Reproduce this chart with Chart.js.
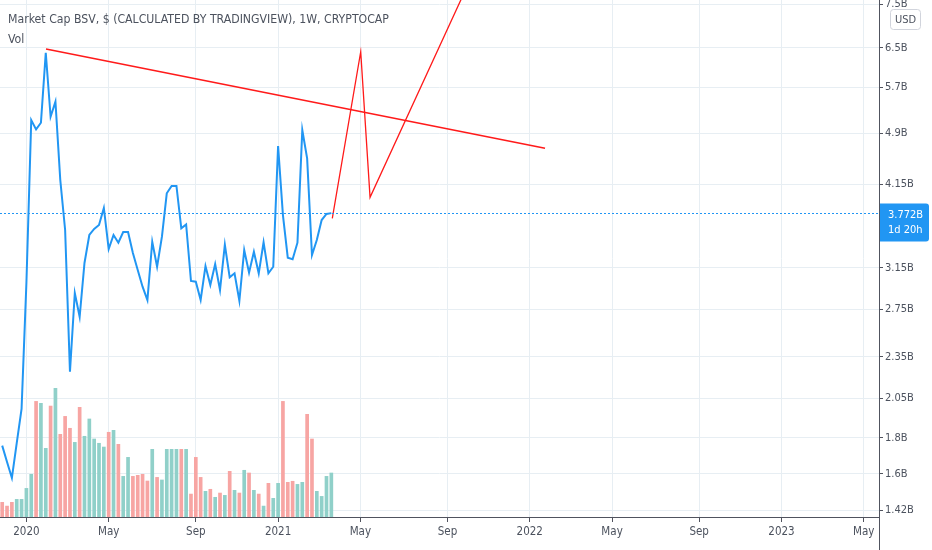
<!DOCTYPE html>
<html>
<head>
<meta charset="utf-8">
<script src="https://cdn.jsdelivr.net/npm/chart.js@4.4.1/dist/chart.umd.min.js"></script>
<style>
    body { margin: 0; background: #ffffff; }
    #wrap { position: relative; width: 932px; height: 550px; }
    #title, #vol {
        position: absolute; left: 8px;
        font: 12.2px "DejaVu Sans Condensed", sans-serif; color: #4c525e;
        white-space: nowrap;
    }
    #title { top: 12px; }
    #vol { top: 32px; }
</style>
</head>
<body>
<div id="wrap">
    <canvas id="chartBsv"></canvas>
    <div id="title">Market Cap BSV, $ (CALCULATED BY TRADINGVIEW), 1W, CRYPTOCAP</div>
    <div id="vol">Vol</div>
</div>
<script>
// weekly closes, in billions USD (week of 2019-12-02 .. 2021-03-22)
const closeB = [
    1.755, 1.663, 1.578, 1.770, 1.980, 2.997, 5.124, 4.969, 5.078, 6.394,
    5.180, 5.442, 4.206, 3.568, 2.238, 2.900, 2.682, 3.201, 3.510, 3.580,
    3.627, 3.836, 3.352, 3.510, 3.422, 3.545, 3.545, 3.308, 3.128, 2.961,
    2.834, 3.433, 3.162, 3.490, 4.026, 4.124, 4.124, 3.588, 3.635, 3.017,
    3.010, 2.834, 3.169, 2.977, 3.190, 2.929, 3.399, 3.054, 3.094, 2.827,
    3.341, 3.100, 3.322, 3.094, 3.426, 3.094, 3.162, 4.704, 3.748, 3.257,
    3.240, 3.422, 4.958, 4.517, 3.286, 3.453, 3.687, 3.761, 3.772,
];

// weekly volume, millions USD
const volumeM = [
    116, 87, 116, 139, 139, 224, 333, 897, 882, 534,
    861, 998, 642, 781, 689, 580, 851, 627, 761, 606,
    573, 544, 658, 673, 565, 317, 464, 317, 325, 333,
    281, 526, 309, 289, 526, 526, 526, 526, 526, 180,
    464, 309, 201, 217, 155, 188, 170, 356, 209, 188,
    364, 343, 209, 180, 87, 263, 147, 263, 897, 271,
    279, 255, 271, 797, 606, 201, 162, 317, 343,
];

// u = up week, d = down week
const volumeDir = (
    "ddduuuuduu" + "duddduduuu" + "uududuuddd" + "duduuuudud" +
    "ddudududud" + "udududuudd" + "duudduuuu"
).split("");

// time axis: bar index of first weekly bar of each labelled month
const monthIdx = [5, 22, 40, 57, 74, 92, 109, 126, 144, 161, 178];
const monthLabels = ["2020", "May", "Sep", "2021", "May", "Sep", "2022", "May", "Sep", "2023", "May"];

// price axis ticks, billions USD
const priceTicks = [1.42, 1.6, 1.8, 2.05, 2.35, 2.75, 3.15, 4.15, 4.9, 5.7, 6.5, 7.5];

// drawings: [bar index, price in billions]
const trendLine = [[9.05, 6.472], [112.15, 4.668]];
const projection = [[68.2, 3.708], [74.07, 6.415], [76.0, 3.973], [100, 9.12]];

const timeLeft = "1d 20h";

const BLUE = "#2196f3";
const GRID = "#e7eef3";
const AXIS = "#50535e";
const TEXT = "#4c525e";
const FONT = "'DejaVu Sans Condensed', sans-serif";

const toPts = (arr) => arr.map((p) => ({ x: p[0], y: p[1] * 1e9 }));

const noPadding = (axis) => {
    axis.paddingTop = 0;
    axis.paddingBottom = 0;
    axis.paddingLeft = 0;
    axis.paddingRight = 0;
};

const overlayPlugin = {
    id: "overlay",
    afterDraw(chart) {
        const ctx = chart.ctx;
        const area = chart.chartArea;
        const y = chart.scales.y;
        const last = closeB[closeB.length - 1];
        const py = Math.round(y.getPixelForValue(last * 1e9)) + 0.5;

        ctx.save();
        // last price dotted line
        ctx.strokeStyle = BLUE;
        ctx.lineWidth = 1;
        ctx.setLineDash([2, 2]);
        ctx.beginPath();
        ctx.moveTo(area.left, py);
        ctx.lineTo(area.right, py);
        ctx.stroke();
        ctx.setLineDash([]);

        // axis line continues through the time axis
        ctx.strokeStyle = AXIS;
        ctx.beginPath();
        ctx.moveTo(area.right + 0.5, area.bottom);
        ctx.lineTo(area.right + 0.5, chart.height);
        ctx.stroke();

        // price label
        ctx.fillStyle = BLUE;
        ctx.beginPath();
        ctx.roundRect(area.right + 1, py - 10, 49, 38, [0, 3, 3, 0]);
        ctx.fill();
        ctx.fillStyle = "#ffffff";
        ctx.font = "11px " + FONT;
        ctx.textBaseline = "middle";
        ctx.fillText(last.toFixed(3) + "B", area.right + 9, py + 2);
        ctx.fillText(timeLeft, area.right + 9, py + 17);

        // currency box
        ctx.fillStyle = "#ffffff";
        ctx.strokeStyle = "#d1d4dc";
        ctx.beginPath();
        ctx.roundRect(area.right + 11.5, 9.5, 30, 20, 3);
        ctx.fill();
        ctx.stroke();
        ctx.fillStyle = TEXT;
        ctx.textAlign = "center";
        ctx.fillText("USD", area.right + 26.5, 20);
        ctx.restore();
    },
};

new Chart(document.getElementById("chartBsv").getContext("2d"), {
    data: {
        datasets: [
            {
                type: "line",
                data: toPts(trendLine),
                borderColor: "#ff1a1a",
                borderWidth: 1.5,
                pointRadius: 0,
                order: 1,
            },
            {
                type: "line",
                data: toPts(projection),
                borderColor: "#ff1a1a",
                borderWidth: 1.3,
                pointRadius: 0,
                order: 1,
            },
            {
                type: "line",
                data: closeB.map((v, i) => ({ x: i, y: v * 1e9 })),
                borderColor: BLUE,
                borderWidth: 2,
                pointRadius: 0,
                tension: 0,
                order: 2,
            },
            {
                type: "bar",
                data: volumeM.map((v, i) => ({ x: i, y: v })),
                yAxisID: "yVol",
                backgroundColor: volumeDir.map((d) => (d === "u" ? "#90d0c9" : "#f7a5a3")),
                categoryPercentage: 1,
                barPercentage: 0.76,
                order: 3,
            },
        ],
    },
    options: {
        responsive: true,
        maintainAspectRatio: false,
        animation: false,
        layout: { padding: 0 },
        plugins: {
            legend: { display: false },
            tooltip: { enabled: false },
        },
        scales: {
            x: {
                type: "linear",
                position: "bottom",
                offset: false,
                min: -0.455,
                max: 181.15,
                afterBuildTicks: (axis) => {
                    axis.ticks = monthIdx.map((v) => ({ value: v }));
                },
                afterFit: (axis) => {
                    axis.height = 33;
                    noPadding(axis);
                },
                ticks: {
                    autoSkip: false,
                    maxRotation: 0,
                    padding: 3,
                    color: TEXT,
                    font: { family: FONT, size: 11.5 },
                    callback: (v) => monthLabels[monthIdx.indexOf(v)] ?? "",
                },
                grid: { color: GRID, tickColor: AXIS, tickLength: 5, offset: false },
                border: { color: AXIS },
            },
            y: {
                type: "logarithmic",
                position: "right",
                min: 1.3878e9,
                max: 7.605e9,
                afterBuildTicks: (axis) => {
                    axis.ticks = priceTicks.map((v) => ({ value: v * 1e9 }));
                },
                afterFit: (axis) => {
                    axis.width = 53;
                    noPadding(axis);
                },
                ticks: {
                    autoSkip: false,
                    padding: 2,
                    color: TEXT,
                    font: { family: FONT, size: 11 },
                    callback: (v) => +(v / 1e9).toFixed(3) + "B",
                },
                grid: { color: GRID, tickColor: AXIS, tickLength: 4 },
                border: { color: AXIS },
            },
            yVol: {
                type: "linear",
                display: false,
                min: 0,
                max: 4000,
            },
        },
    },
    plugins: [overlayPlugin],
});
</script>
</body>
</html>
